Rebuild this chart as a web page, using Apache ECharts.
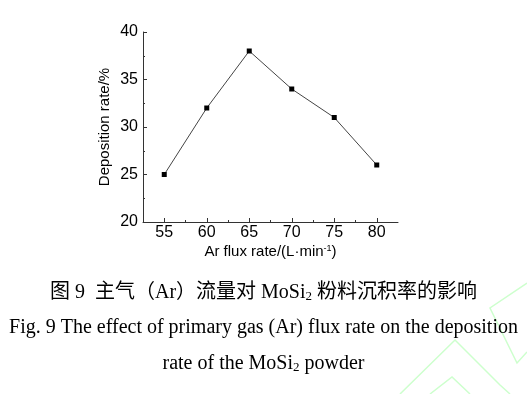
<!DOCTYPE html>
<html><head><meta charset="utf-8">
<script src="https://cdn.jsdelivr.net/npm/echarts@6/dist/echarts.min.js"></script>
<style>html,body{margin:0;padding:0;background:#fff}#c{width:527px;height:394px}</style>
</head><body><div id="c"></div>
<script>
const flux = [55, 60, 65, 70, 75, 80];
const deposition = [25, 32, 38, 34, 31, 26];
const xTicks = [55, 60, 65, 70, 75, 80];
const xMinorTicks = [57.5, 62.5, 67.5, 72.5, 77.5];

const chart = echarts.init(document.getElementById('c'));
const serif = '"Liberation Serif","Times New Roman","Noto Sans CJK SC",serif';
const sans = '"Liberation Sans",Arial,sans-serif';
const green = 'rgb(205,255,205)';
chart.setOption({
  animation: false,
  grid: { left: 143, right: 129, top: 32, bottom: 172 },
  xAxis: [{
    type: 'value', min: 52.5, max: 82.5,
    axisLine: { lineStyle: { color: '#333', width: 1 } },
    axisTick: { inside: true, length: 4, customValues: xTicks, lineStyle: { color: '#333' } },
    axisLabel: { customValues: xTicks, color: '#000', fontSize: 16, fontFamily: sans, margin: 3 },
    splitLine: { show: false },
    name: 'Ar flux rate/(L·min{sup|-1})', nameLocation: 'middle', nameGap: 22,
    nameTextStyle: { color: '#000', fontSize: 15, fontFamily: sans,
      rich: { sup: { fontSize: 9, verticalAlign: 'top', lineHeight: 9, color: '#000', padding: [0, 0, 7, 0] } } }
  }, {
    type: 'value', min: 52.5, max: 82.5, position: 'bottom',
    axisLine: { show: false },
    axisTick: { inside: true, length: 2, customValues: xMinorTicks, lineStyle: { color: '#333' } },
    axisLabel: { show: false }, splitLine: { show: false }
  }],
  yAxis: {
    type: 'value', min: 20, max: 40, interval: 5,
    axisLine: { show: true, lineStyle: { color: '#333', width: 1 } },
    axisTick: { show: true, inside: true, length: 4, lineStyle: { color: '#333' } },
    minorTick: { show: true, splitNumber: 2, length: 2, lineStyle: { color: '#333' } },
    axisLabel: { color: '#000', fontSize: 16, fontFamily: sans, margin: 5 },
    splitLine: { show: false },
    name: 'Deposition rate/%', nameLocation: 'middle', nameGap: 31, nameRotate: 90,
    nameTextStyle: { color: '#000', fontSize: 15, fontFamily: sans }
  },
  series: [{
    type: 'line', xAxisIndex: 0,
    data: flux.map((x, i) => [x, deposition[i]]),
    symbol: 'rect', symbolSize: 5,
    itemStyle: { color: '#000' },
    lineStyle: { color: '#444', width: 1 }
  }],
  graphic: [
    { type: 'polyline', silent: true, z: -1, shape: { points: [[527, 283], [490, 308], [517, 363], [527, 352]] }, style: { stroke: green, fill: null, lineWidth: 1.5 } },
    { type: 'polyline', silent: true, z: -1, shape: { points: [[400, 394], [455, 340], [500, 385], [510, 394]] }, style: { stroke: green, fill: null, lineWidth: 1.5 } },
    { type: 'polyline', silent: true, z: -1, shape: { points: [[430, 394], [452, 377], [470, 394]] }, style: { stroke: green, fill: null, lineWidth: 1.5 } },
    { type: 'text', left: 'center', top: 283, style: {
      text: '图 9  主气（Ar）流量对 MoSi{sub|2} 粉料沉积率的影响',
      font: '20px ' + serif, fill: '#000',
      rich: { sub: { fontSize: 13, verticalAlign: 'bottom', padding: [7, 0, 0, 0], fontFamily: serif, fill: '#000' } } } },
    { type: 'text', left: 'center', top: 318, style: {
      text: 'Fig. 9 The effect of primary gas (Ar) flux rate on the deposition',
      font: '20px ' + serif, fill: '#000' } },
    { type: 'text', left: 'center', top: 354, style: {
      text: 'rate of the MoSi{sub|2} powder',
      font: '20px ' + serif, fill: '#000',
      rich: { sub: { fontSize: 13, verticalAlign: 'bottom', padding: [7, 0, 0, 0], fontFamily: serif, fill: '#000' } } } }
  ]
});
</script></body></html>
